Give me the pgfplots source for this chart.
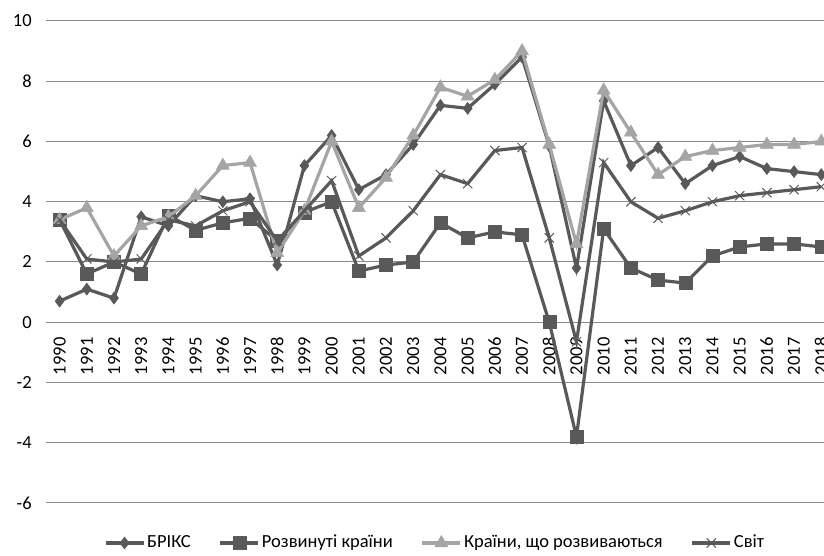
\documentclass[border=0pt]{standalone}
\usepackage{fontspec}
\setmainfont{Carlito}
\usepackage{pgfplots}
\pgfplotsset{compat=1.18}
\definecolor{dk}{HTML}{595959}
\definecolor{lt}{HTML}{A5A5A5}
\definecolor{gr}{HTML}{898989}
\begin{document}
\fontsize{18.5}{22}\selectfont
\begin{tikzpicture}
\begin{axis}[
  scale only axis, width=778pt, height=482pt,
  xmin=1989.5, xmax=2018.1, ymin=-6, ymax=10,
  separate axis lines,
  axis x line=middle, axis y line=left,
  x axis line style={-, draw=gr, line width=1.2pt},
  y axis line style={draw=none},
  ytick={-6,-4,...,10}, xtick={1990,...,2018},
  major tick length=0pt,
  ymajorgrids, grid style={gr, line width=1pt},
  /pgf/number format/assume math mode=true,
  /pgf/number format/1000 sep=,
  ticklabel style={font=\fontsize{18.5}{22}\selectfont, text=black},
  xticklabel style={yshift=-9pt, rotate=90, anchor=east},
  yticklabel style={xshift=-8pt},
  clip marker paths=true,
  legend columns=4,
  legend style={draw=none, at={(0.5,-0.083)}, anchor=center, font=\fontsize{18.5}{22}\selectfont,
    /tikz/every even column/.append style={column sep=26pt}},
  legend image code/.code={\draw[mark repeat=2,mark phase=2] plot coordinates {(0pt,0pt)(19pt,0pt)(38pt,0pt)};},
]
\addplot[dk, line width=3.2pt, mark=diamond*, mark size=6pt, mark options={solid, fill=dk, line width=0.5pt}] coordinates {
(1990,0.7)(1991,1.1)(1992,0.8)(1993,3.5)(1994,3.2)(1995,4.2)(1996,4.0)(1997,4.1)(1998,1.9)(1999,5.2)
(2000,6.2)(2001,4.4)(2002,4.9)(2003,5.9)(2004,7.2)(2005,7.1)(2006,7.9)(2007,8.8)(2008,5.85)(2009,1.8)
(2010,7.35)(2011,5.2)(2012,5.8)(2013,4.6)(2014,5.2)(2015,5.5)(2016,5.1)(2017,5.0)(2018,4.9)};
\addlegendentry{БРІКС}
\addplot[dk, line width=3.2pt, mark=square*, mark size=6.5pt, mark options={solid, fill=dk, line width=0.5pt}] coordinates {
(1990,3.4)(1991,1.6)(1992,2.0)(1993,1.6)(1994,3.55)(1995,3.05)(1996,3.3)(1997,3.45)(1998,2.7)(1999,3.65)
(2000,4.0)(2001,1.7)(2002,1.9)(2003,2.0)(2004,3.3)(2005,2.8)(2006,3.0)(2007,2.9)(2008,0.0)(2009,-3.8)
(2010,3.1)(2011,1.8)(2012,1.4)(2013,1.3)(2014,2.2)(2015,2.5)(2016,2.6)(2017,2.6)(2018,2.5)};
\addlegendentry{Розвинуті країни}
\addplot[lt, line width=3.2pt, mark=triangle*, mark size=7.5pt, mark options={solid, fill=lt, line width=0.5pt}] coordinates {
(1990,3.4)(1991,3.8)(1992,2.2)(1993,3.2)(1994,3.5)(1995,4.2)(1996,5.2)(1997,5.3)(1998,2.3)(1999,3.7)
(2000,6.0)(2001,3.8)(2002,4.8)(2003,6.2)(2004,7.8)(2005,7.5)(2006,8.05)(2007,9.0)(2008,5.9)(2009,2.6)
(2010,7.7)(2011,6.3)(2012,4.9)(2013,5.5)(2014,5.7)(2015,5.8)(2016,5.9)(2017,5.9)(2018,6.0)};
\addlegendentry{Країни, що розвиваються}
\addplot[dk, line width=3.2pt, mark=x, mark size=6.5pt, mark options={solid, line width=1pt}] coordinates {
(1990,3.4)(1991,2.1)(1992,2.0)(1993,2.1)(1994,3.4)(1995,3.2)(1996,3.7)(1997,4.0)(1998,2.7)(1999,3.7)
(2000,4.7)(2001,2.2)(2002,2.8)(2003,3.7)(2004,4.9)(2005,4.6)(2006,5.7)(2007,5.8)(2008,2.8)(2009,-0.65)
(2010,5.3)(2011,4.0)(2012,3.45)(2013,3.7)(2014,4.0)(2015,4.2)(2016,4.3)(2017,4.4)(2018,4.5)};
\addlegendentry{Світ}
\end{axis}
\pgfresetboundingbox
\path (-46pt,-53pt) rectangle (778pt,503pt);
\end{tikzpicture}
\end{document}
